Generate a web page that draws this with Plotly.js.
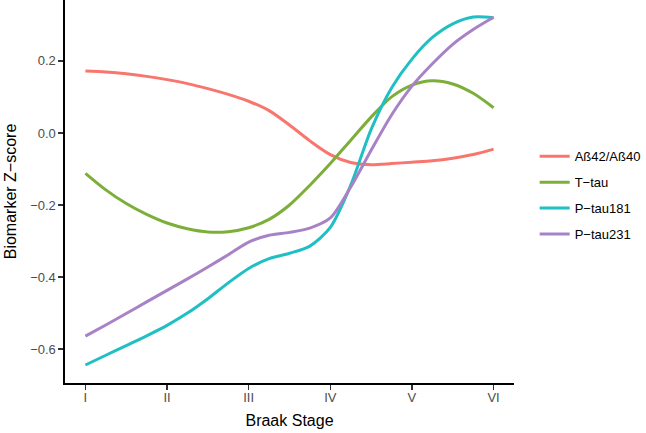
<!DOCTYPE html>
<html>
<head>
<meta charset="utf-8">
<script src="https://cdn.plot.ly/plotly-3.0.1.min.js"></script>
<style>html,body{margin:0;padding:0;background:#fff;}#chart{width:646px;height:433px;}</style>
</head>
<body>
<div id="chart"></div>
<script>
// Braak stage positions (0 = I ... 5 = VI), sampled along the smoothed curves
var stagePos = [0, 0.25, 0.5, 0.75, 1, 1.25, 1.5, 1.75, 2, 2.25, 2.5, 2.75, 3, 3.25, 3.5, 3.75, 4, 4.25, 4.5, 4.75, 5];
var stageLabels = ["I", "II", "III", "IV", "V", "VI"];
var stageTicks = [0, 1, 2, 3, 4, 5];

var seriesNames = ["A\u00df42/A\u00df40", "T\u2212tau", "P\u2212tau181", "P\u2212tau231"];
var seriesColors = ["#F8766D", "#7CAE3A", "#1FBFC4", "#A882C6"];

var abRatio = [0.172, 0.169, 0.164, 0.157, 0.148, 0.137, 0.123, 0.107, 0.088, 0.062, 0.022, -0.022, -0.060, -0.082, -0.088, -0.085, -0.081, -0.077, -0.070, -0.060, -0.045];
var tTau = [-0.112, -0.158, -0.196, -0.226, -0.250, -0.266, -0.275, -0.274, -0.263, -0.240, -0.200, -0.145, -0.085, -0.020, 0.044, 0.100, 0.133, 0.145, 0.136, 0.110, 0.070];
var pTau181 = [-0.644, -0.617, -0.590, -0.563, -0.534, -0.500, -0.460, -0.416, -0.376, -0.349, -0.334, -0.314, -0.262, -0.145, 0.010, 0.125, 0.205, 0.265, 0.303, 0.322, 0.320];
var pTau231 = [-0.564, -0.533, -0.501, -0.469, -0.437, -0.405, -0.372, -0.338, -0.303, -0.284, -0.276, -0.264, -0.236, -0.150, -0.048, 0.050, 0.130, 0.192, 0.246, 0.287, 0.321];

var yTicks = [-0.6, -0.4, -0.2, 0.0, 0.2];
var yTickText = ["\u22120.6", "\u22120.4", "\u22120.2", "0.0", "0.2"];

var allSeries = [abRatio, tTau, pTau181, pTau231];
var traces = allSeries.map(function (vals, i) {
  return {
    x: stagePos,
    y: vals,
    type: "scatter",
    mode: "lines",
    name: seriesNames[i],
    legendgroup: "g" + i,
    line: {color: seriesColors[i], width: 3, shape: "spline", smoothing: 0.8},
    hoverinfo: "skip"
  };
});

var fontFam = "Liberation Sans, Arial, sans-serif";
var layout = {
  width: 646,
  height: 433,
  margin: {l: 65, r: 130, t: 0, b: 50, pad: 0},
  paper_bgcolor: "#ffffff",
  plot_bgcolor: "#ffffff",
  showlegend: true,
  font: {family: fontFam, color: "#000"},
  xaxis: {
    range: [-0.25, 5.25],
    tickvals: stageTicks,
    ticktext: stageLabels,
    showgrid: false,
    zeroline: false,
    showline: true,
    linecolor: "#000",
    linewidth: 1.6,
    ticks: "outside",
    ticklen: 5,
    tickwidth: 1.3,
    tickcolor: "#333",
    ticklabelstandoff: -3,
    tickfont: {family: fontFam, size: 13, color: "#4d4d4d"},
    title: {text: "Braak Stage", font: {family: fontFam, size: 16, color: "#000"}, standoff: 10},
    fixedrange: true
  },
  yaxis: {
    range: [-0.694, 0.369],
    tickvals: yTicks,
    ticktext: yTickText,
    showgrid: false,
    zeroline: false,
    showline: true,
    linecolor: "#000",
    linewidth: 1.6,
    ticks: "outside",
    ticklen: 5,
    tickwidth: 1.3,
    tickcolor: "#333",
    tickfont: {family: fontFam, size: 13, color: "#4d4d4d"},
    title: {text: "Biomarker Z\u2212score", font: {family: fontFam, size: 16, color: "#000"}, standoff: 9},
    fixedrange: true
  },
  legend: {
    x: 1.046,
    xanchor: "left",
    y: 0.49,
    yanchor: "middle",
    font: {family: fontFam, size: 13, color: "#000"},
    tracegroupgap: 6,
    bgcolor: "rgba(0,0,0,0)",
    borderwidth: 0
  }
};

Plotly.newPlot("chart", traces, layout, {staticPlot: true, displayModeBar: false});
</script>
</body>
</html>
